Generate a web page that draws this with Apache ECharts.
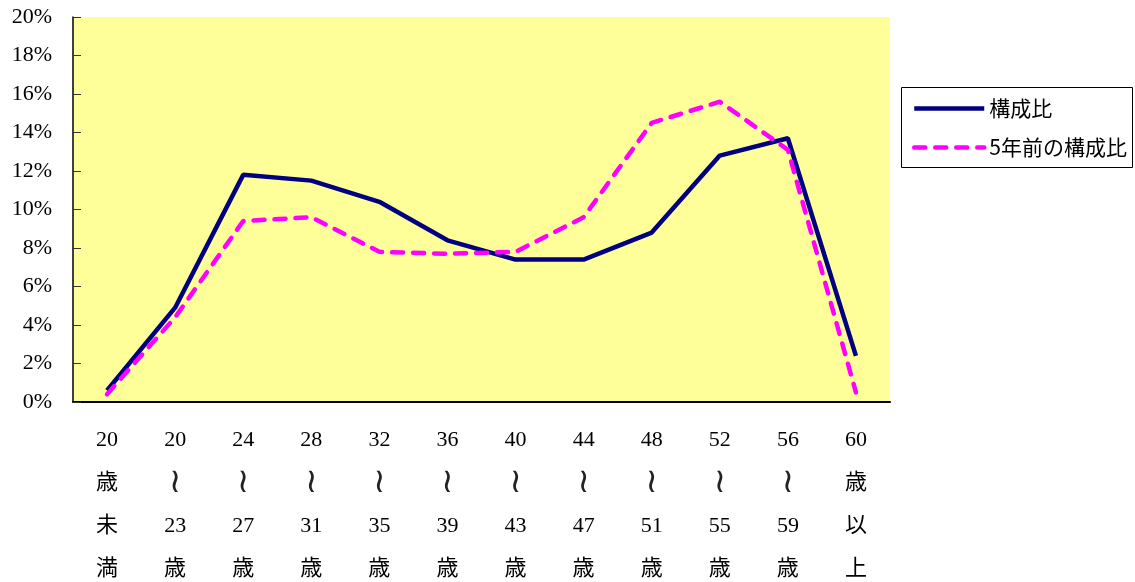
<!DOCTYPE html>
<html>
<head>
<meta charset="utf-8">
<script src="https://cdn.jsdelivr.net/npm/echarts@6/dist/echarts.min.js"></script>
<style>html,body{margin:0;padding:0;background:#fff;}#c{width:1135px;height:582px;}</style>
</head>
<body>
<div id="c"></div>
<script>
const categories = ['20\n歳\n未\n満','20\n≀\n23\n歳','24\n≀\n27\n歳','28\n≀\n31\n歳','32\n≀\n35\n歳','36\n≀\n39\n歳','40\n≀\n43\n歳','44\n≀\n47\n歳','48\n≀\n51\n歳','52\n≀\n55\n歳','56\n≀\n59\n歳','60\n歳\n以\n上'];
const seriesNames = ['構成比','5年前の構成比'];
const current = [0.6, 4.9, 11.8, 11.5, 10.4, 8.4, 7.4, 7.4, 8.8, 12.8, 13.7, 2.4];
const fiveYearsAgo = [0.4, 4.4, 9.4, 9.6, 7.8, 7.7, 7.8, 9.6, 14.5, 15.6, 13.1, 0.5];
const yMin = 0, yMax = 20, yStep = 2;

const navyLine = { color: '#000080', width: 4.5 };
const pinkLine = { color: '#FF00FF', width: 4.5, type: [11, 10], cap: 'round' };

const chart = echarts.init(document.getElementById('c'));
chart.setOption({
  backgroundColor: '#ffffff',
  animation: false,
  grid: { left: 73, top: 17, right: 245, bottom: 180, containLabel: false, outerBoundsMode: 'none', show: true, backgroundColor: '#FFFF99', borderWidth: 0 },
  legend: {
    orient: 'vertical', left: 907, top: 93,
    itemWidth: 70, itemHeight: 14, itemGap: 18,
    textStyle: { fontFamily: 'Noto Sans CJK JP', fontSize: 21, lineHeight: 21, color: '#000' },
    itemStyle: { opacity: 0 },
    data: [
      { name: seriesNames[0], itemStyle: { opacity: 0 }, lineStyle: Object.assign({}, navyLine) },
      { name: seriesNames[1], itemStyle: { opacity: 0 }, lineStyle: Object.assign({}, pinkLine) }
    ]
  },
  graphic: [{ type: 'rect', shape: { x: 901.5, y: 87.5, width: 231, height: 80 }, style: { fill: 'none', stroke: '#000', lineWidth: 1 }, silent: true }],
  xAxis: {
    type: 'category', data: categories, boundaryGap: true,
    axisLine: { lineStyle: { color: '#000', width: 2 } },
    axisTick: { inside: true, length: 7, interval: 0, lineStyle: { color: '#000', width: 1 } },
    axisLabel: {
      interval: 0, margin: 17, lineHeight: 43, fontSize: 22, color: '#000', fontFamily: 'Liberation Serif, Noto Sans CJK JP',
      formatter: function (v) { return v.split('\n').map(function (s) { return s === '≀' ? '{w|≀}' : '{t|' + s + '}'; }).join('\n'); },
      rich: {
        t: { fontSize: 22, lineHeight: 43, color: '#000', fontFamily: 'Liberation Serif, Noto Sans CJK JP' },
        w: { fontSize: 34, lineHeight: 43, color: '#222', fontFamily: 'DejaVu Sans ExtraLight, DejaVu Sans' }
      }
    },
    splitLine: { show: false }
  },
  yAxis: {
    type: 'value', min: yMin, max: yMax, interval: yStep,
    axisLine: { show: true, lineStyle: { color: '#000', width: 1.5 } },
    axisTick: { show: true, inside: true, length: 8, lineStyle: { color: '#333', width: 1 } },
    axisLabel: { formatter: '{value}%', fontSize: 22, margin: 21, color: '#000', fontFamily: 'Liberation Serif' },
    splitLine: { show: false }
  },
  series: [
    { name: seriesNames[0], type: 'line', data: current, symbol: 'none', lineStyle: navyLine, itemStyle: { color: '#000080' } },
    { name: seriesNames[1], type: 'line', data: fiveYearsAgo, symbol: 'none', lineStyle: pinkLine, itemStyle: { color: '#FF00FF' } }
  ]
});
</script>
</body>
</html>
